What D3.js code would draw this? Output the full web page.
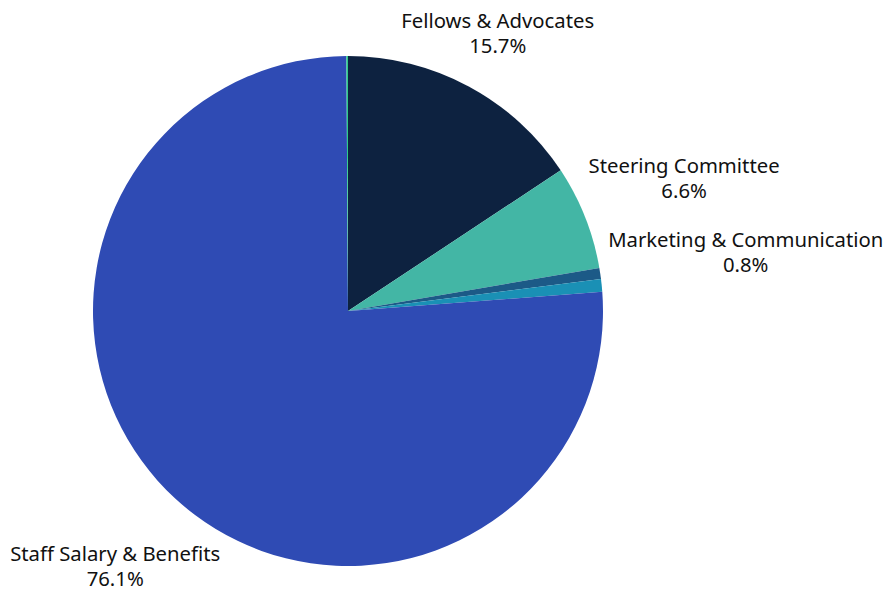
<!DOCTYPE html>
<html>
<head>
<meta charset="utf-8">
<script src="https://cdn.jsdelivr.net/npm/d3@7"></script>
<style>
  body { margin: 0; background: #fff; }
  text { font-family: "Noto Sans", sans-serif; font-size: 20.3px; fill: #111; }
</style>
</head>
<body>
<div id="vis"></div>
<script>
const FRAME_WIDTH = 884;
const FRAME_HEIGHT = 592;
const CENTER = {x: 348, y: 311};
const RADIUS = 255;

// slices, clockwise from 12 o'clock
const categories = ["Fellows & Advocates", "Steering Committee", "Other",
                    "Marketing & Communication", "Staff Salary & Benefits", "Misc"];
const values = [15.7, 6.6, 0.7, 0.8, 76.1, 0.1];
const colors = ["#0d2240", "#43b6a5", "#1c5a87", "#1a90b5", "#2f4bb4", "#2ecc8a"];
const labelled = [true, true, false, true, true, false];

// label nudges (px) from the slice's outer mid point, by category
const LABEL_NUDGE = {
  "Fellows & Advocates":       [29, -58],
  "Steering Committee":        [99, -44],
  "Marketing & Communication": [144, -38],
  "Staff Salary & Benefits":   [-60, 62]
};
const LINE_GAP = 25;

const data = categories.map((c, i) => ({name: c, value: values[i], color: colors[i], show: labelled[i]}));

const FRAME = d3.select("#vis")
                .append("svg")
                  .attr("width", FRAME_WIDTH)
                  .attr("height", FRAME_HEIGHT);

const pie = d3.pie().sort(null).value(d => d.value);
const arc = d3.arc().innerRadius(0).outerRadius(RADIUS);
const edge = d3.arc().innerRadius(RADIUS).outerRadius(RADIUS);

const g = FRAME.append("g")
               .attr("transform", "translate(" + CENTER.x + "," + CENTER.y + ")");

const arcs = pie(data);

g.selectAll("path")
  .data(arcs)
  .enter()
  .append("path")
    .attr("d", arc)
    .attr("fill", d => d.data.color);

const labels = g.selectAll(".label")
  .data(arcs.filter(d => d.data.show))
  .enter()
  .append("g")
    .attr("class", "label")
    .attr("transform", d => {
      const p = edge.centroid(d);
      const n = LABEL_NUDGE[d.data.name];
      return "translate(" + (p[0] + n[0]) + "," + (p[1] + n[1]) + ")";
    });

labels.append("text")
  .attr("text-anchor", "middle")
  .text(d => d.data.name);

labels.append("text")
  .attr("text-anchor", "middle")
  .attr("y", LINE_GAP)
  .text(d => d.data.value.toFixed(1) + "%");
</script>
</body>
</html>
